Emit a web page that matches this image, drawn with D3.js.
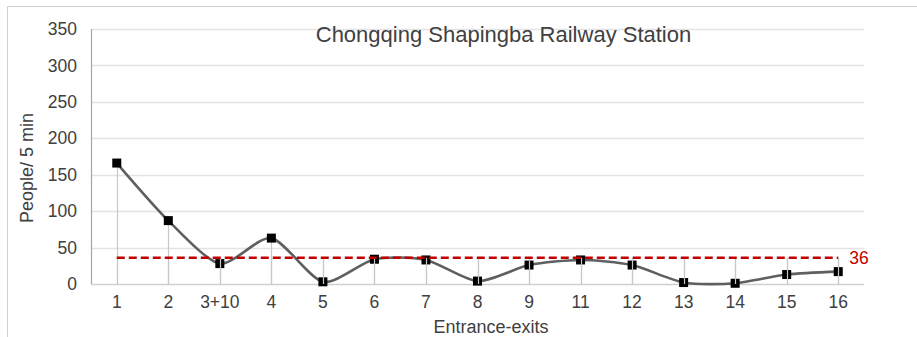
<!DOCTYPE html>
<html>
<head>
<meta charset="utf-8">
<script src="https://cdn.jsdelivr.net/npm/d3@7/dist/d3.min.js"></script>
<style>
  html, body { margin: 0; padding: 0; background: #fff; }
  svg { display: block; font-family: "Liberation Sans", Arial, sans-serif; }
</style>
</head>
<body>
<svg id="chart" width="917" height="337"></svg>
<script>
// Passenger flow per entrance/exit
const categories = ["1", "2", "3+10", "4", "5", "6", "7", "8", "9", "11", "12", "13", "14", "15", "16"];
const flows = [166, 87, 28, 63, 3, 34, 33, 4, 26, 33, 26, 2, 1, 13, 17];
const meanFlow = 36;
const yTicks = [0, 50, 100, 150, 200, 250, 300, 350];
const titleText = "Chongqing Shapingba Railway Station";
const xTitle = "Entrance-exits";
const yTitle = "People/ 5 min";

const svg = d3.select("#chart");
const plot = { left: 91, right: 864, top: 29, bottom: 284 };

const x = d3.scaleBand().domain(categories).range([plot.left, plot.right]);
const y = d3.scaleLinear().domain([0, 350]).range([plot.bottom, plot.top]);
const cx = d => x(d) + x.bandwidth() / 2;

// outer frame
svg.append("path")
  .attr("d", "M7.5,337 V6.5 H917")
  .attr("fill", "none").attr("stroke", "#d0d0d0").attr("stroke-width", 1);

// horizontal gridlines
svg.append("g").selectAll("line").data(yTicks.filter(t => t > 0)).join("line")
  .attr("x1", plot.left).attr("x2", plot.right)
  .attr("y1", d => Math.round(y(d)) + 0.5).attr("y2", d => Math.round(y(d)) + 0.5)
  .attr("stroke", "#e3e3e3").attr("stroke-width", 1.3);

// y axis labels
const yAxis = d3.axisLeft(y).tickValues(yTicks).tickSize(0).tickPadding(14);
const gy = svg.append("g").attr("transform", `translate(${plot.left},0)`).call(yAxis);
gy.select(".domain").remove();
gy.selectAll("text").attr("font-size", 17.5).attr("fill", "#404040")
  .attr("font-family", "Liberation Sans, Arial, sans-serif");

// x axis labels
const xAxis = d3.axisBottom(x).tickSize(0).tickPadding(12);
const gx = svg.append("g").attr("transform", `translate(0,${plot.bottom})`).call(xAxis);
gx.select(".domain").remove();
gx.selectAll("text").attr("font-size", 17.5).attr("fill", "#404040")
  .attr("font-family", "Liberation Sans, Arial, sans-serif");

// drop lines from the highest series point down to the axis
svg.append("g").selectAll("line").data(categories).join("line")
  .attr("x1", d => Math.round(cx(d)) + 0.5).attr("x2", d => Math.round(cx(d)) + 0.5)
  .attr("y1", (d, i) => y(Math.max(flows[i], meanFlow))).attr("y2", plot.bottom)
  .attr("stroke", "#c8c8c8").attr("stroke-width", 1.2);

// axis lines
svg.append("line")
  .attr("x1", plot.left + 0.5).attr("x2", plot.left + 0.5)
  .attr("y1", plot.top).attr("y2", plot.bottom + 0.5)
  .attr("stroke", "#a6a6a6").attr("stroke-width", 1.2);
svg.append("line")
  .attr("x1", plot.left).attr("x2", plot.right)
  .attr("y1", plot.bottom + 0.5).attr("y2", plot.bottom + 0.5)
  .attr("stroke", "#d0d0d0").attr("stroke-width", 1.3);

// smoothed flow line
const line = d3.line()
  .x((d, i) => cx(categories[i]))
  .y(d => y(d))
  .curve(d3.curveCardinal.tension(0.25));
svg.append("path").datum(flows)
  .attr("d", line)
  .attr("fill", "none").attr("stroke", "#5f5f5f").attr("stroke-width", 2.6);

// square markers
const ms = 9;
svg.append("g").selectAll("rect").data(flows).join("rect")
  .attr("x", (d, i) => cx(categories[i]) - ms / 2)
  .attr("y", d => y(d) - ms / 2)
  .attr("width", ms).attr("height", ms)
  .attr("fill", "#000");

// drop lines of the mean series sit above the markers
svg.append("g").selectAll("line").data(categories).join("line")
  .attr("x1", d => Math.round(cx(d)) + 0.5).attr("x2", d => Math.round(cx(d)) + 0.5)
  .attr("y1", y(meanFlow)).attr("y2", plot.bottom)
  .attr("stroke", "#c8c8c8").attr("stroke-width", 1.2);

// mean reference line
svg.append("line")
  .attr("x1", cx(categories[0])).attr("x2", cx(categories[categories.length - 1]))
  .attr("y1", y(meanFlow)).attr("y2", y(meanFlow))
  .attr("stroke", "#c00000").attr("stroke-width", 2.5)
  .attr("stroke-dasharray", "8,4");
svg.append("text")
  .attr("x", cx(categories[categories.length - 1]) + 11)
  .attr("y", y(meanFlow)).attr("dy", "0.35em")
  .attr("font-size", 17.5).attr("fill", "#c00000")
  .text(meanFlow);

// titles
svg.append("text")
  .attr("x", 503.5).attr("y", 41.5).attr("text-anchor", "middle")
  .attr("font-size", 22).attr("fill", "#404040")
  .text(titleText);
svg.append("text")
  .attr("x", 491).attr("y", 333).attr("text-anchor", "middle")
  .attr("font-size", 18).attr("fill", "#404040")
  .text(xTitle);
svg.append("text")
  .attr("transform", "translate(33,168) rotate(-90)")
  .attr("text-anchor", "middle")
  .attr("font-size", 18).attr("fill", "#404040")
  .text(yTitle);
</script>
</body>
</html>
